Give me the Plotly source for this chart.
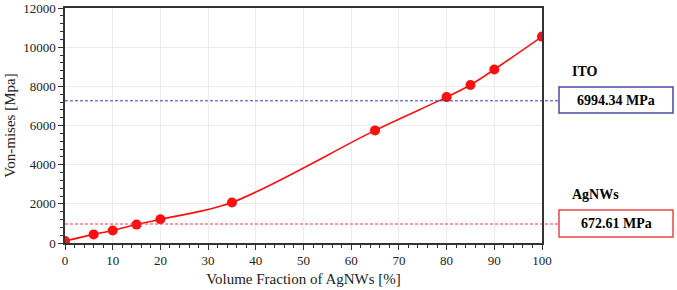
import plotly.graph_objects as go

volume_fraction = [0, 6, 10, 15, 20, 35, 65, 80, 85, 90, 100]
von_mises = [100, 440, 640, 940, 1210, 2070, 5750, 7450, 8070, 8860, 10540]

y_ticks = [0, 2000, 4000, 6000, 8000, 10000, 12000]
x_ticks = [0, 10, 20, 30, 40, 50, 60, 70, 80, 90, 100]

ref_names = ["ITO", "AgNWs"]
ref_labels = ["6994.34 MPa", "672.61 MPa"]
ref_levels = [7260, 970]
ref_colors = ["#3a3ab8", "#f03838"]
box_colors = ["#4a4aa8", "#e84848"]

W, H = 677, 290
L, R, T, B = 65, 135, 8, 47
pw = W - L - R
ph = H - T - B

def px_to_paper_x(px):
    return (px - L) / pw

def px_to_paper_y(py):
    return (H - B - py) / ph

fig = go.Figure()
fig.add_trace(go.Scatter(
    x=volume_fraction, y=von_mises, mode="lines+markers",
    line=dict(color="#ff1010", width=1.6, shape="spline", smoothing=0.9),
    marker=dict(color="#ff1010", size=10),
    showlegend=False,
))

font_family = "Liberation Serif"

box_tops = [87, 210]
box_bottoms = [113, 237]
for i in range(len(ref_names)):
    fig.add_shape(type="line", xref="paper", yref="y",
                  x0=0, x1=px_to_paper_x(559), y0=ref_levels[i], y1=ref_levels[i],
                  line=dict(color=ref_colors[i], width=1, dash="3px,2px"))
    fig.add_shape(type="rect", xref="paper", yref="paper",
                  x0=px_to_paper_x(559), x1=px_to_paper_x(673),
                  y0=px_to_paper_y(box_bottoms[i]), y1=px_to_paper_y(box_tops[i]),
                  line=dict(color=box_colors[i], width=1.5), fillcolor="white")
    fig.add_annotation(xref="paper", yref="paper",
                       x=px_to_paper_x(616), y=px_to_paper_y((box_tops[i] + box_bottoms[i]) / 2),
                       text="<b>%s</b>" % ref_labels[i], showarrow=False,
                       font=dict(family=font_family, size=14, color="black"),
                       xanchor="center", yanchor="middle")
    fig.add_annotation(xref="paper", yref="paper",
                       x=px_to_paper_x(570), y=px_to_paper_y(box_tops[i] - 16),
                       text="<b>%s</b>" % ref_names[i], showarrow=False,
                       font=dict(family=font_family, size=14, color="black"),
                       xanchor="left", yanchor="middle")

fig.update_layout(
    width=W, height=H,
    margin=dict(l=L, r=R, t=T, b=B),
    plot_bgcolor="white", paper_bgcolor="white",
    font=dict(family=font_family, size=13, color="#222"),
    xaxis=dict(
        range=[0, 100], tickvals=x_ticks, ticktext=[str(v) for v in x_ticks],
        title=dict(text="Volume Fraction of AgNWs [%]", font=dict(size=15), standoff=6),
        showgrid=True, gridcolor="#ececec", gridwidth=1,
        showline=True, linecolor="#333", linewidth=1.5, mirror=True,
        ticks="outside", ticklen=5, tickcolor="#333",
        minor=dict(ticks="outside", ticklen=3, dtick=2, tickcolor="#333", showgrid=False),
        zeroline=False, ticklabeloverflow="allow", automargin=False,
    ),
    yaxis=dict(
        range=[0, 12000], tickvals=y_ticks, ticktext=[str(v) for v in y_ticks],
        title=dict(text="Von-mises [Mpa]", font=dict(size=15), standoff=4),
        showgrid=True, gridcolor="#ececec", gridwidth=1,
        showline=True, linecolor="#333", linewidth=1.5, mirror=True,
        ticks="outside", ticklen=5, tickcolor="#333",
        minor=dict(ticks="outside", ticklen=3, dtick=400, tickcolor="#333", showgrid=False),
        zeroline=False, ticklabeloverflow="allow", automargin=False,
    ),
)

fig.write_html("out.html")
